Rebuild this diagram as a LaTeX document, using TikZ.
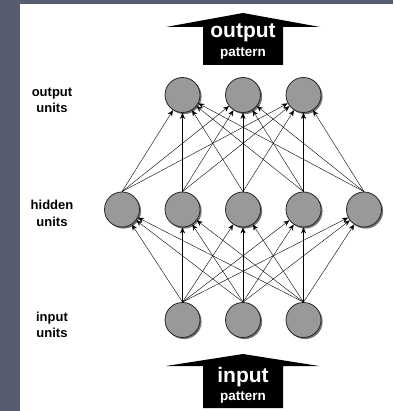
\documentclass[tikz,border=0pt]{standalone}
\usepackage{fontspec}
\setmainfont{Liberation Sans}
\usetikzlibrary{arrows.meta,shadows}
\definecolor{bgc}{RGB}{88,92,112}
\definecolor{unitfill}{RGB}{153,153,153}
\begin{document}
\begin{tikzpicture}[x=1pt,y=-1pt,
  unit/.style={circle,draw=black!85,line width=0.8pt,fill=unitfill,minimum size=35pt,inner sep=0pt,
    drop shadow={shadow xshift=1.6pt,shadow yshift=-1.6pt,fill=black!55,opacity=1}},
  conn/.style={-{Stealth[length=6pt,width=5pt]},line width=0.4pt},
  lbl/.style={font=\bfseries\fontsize{13}{15}\selectfont,anchor=base,inner sep=0pt},
  bigt/.style={font=\bfseries\fontsize{21}{21}\selectfont,text=white,anchor=base,inner sep=0pt},
  smallt/.style={font=\bfseries\fontsize{13.5}{14}\selectfont,text=white,anchor=base,inner sep=0pt},
  patarrow/.style={fill=black}]
\useasboundingbox (0,0) rectangle (393,411);
\fill[white] (20,4) rectangle (393,411);
\fill[bgc] (0,0) rectangle (20,411);
\fill[bgc] (20,0) rectangle (393,4);
% pattern arrows
\fill[patarrow] (166,27) -- (243,13) -- (320,27) -- (283,27) -- (283,65) -- (203,65) -- (203,27) -- cycle;
\fill[patarrow] (166,366) -- (243,354) -- (319,366) -- (283,366) -- (283,408) -- (203,408) -- (203,366) -- cycle;
\node[bigt] (outt) at (243,38) {output};
\node[smallt] (outp) at (243,57) {pattern};
\node[bigt] (int) at (243,382) {input};
\node[smallt] (inp) at (243,400) {pattern};
% labels
\node[lbl] (lo1) at (52,97) {output};
\node[lbl] (lo2) at (52,113) {units};
\node[lbl] (lh1) at (52,210) {hidden};
\node[lbl] (lh2) at (52,226) {units};
\node[lbl] (li1) at (52,321) {input};
\node[lbl] (li2) at (52,337) {units};
% units
\foreach \i/\x in {1/182.5,2/243,3/303.5} {
  \node[unit] (o\i) at (\x,95) {};
  \node[unit] (i\i) at (\x,320) {};
}
\foreach \i/\x in {1/122,2/182.5,3/243,4/303.5,5/364} {
  \node[unit] (h\i) at (\x,209.5) {};
}
% connections
\foreach \h in {1,...,5} {
  \foreach \o in {1,2,3} {
    \draw[conn] (h\h.north) -- (o\o);
    \draw[conn] (i\o.north) -- (h\h);
  }
}
\end{tikzpicture}
\end{document}
